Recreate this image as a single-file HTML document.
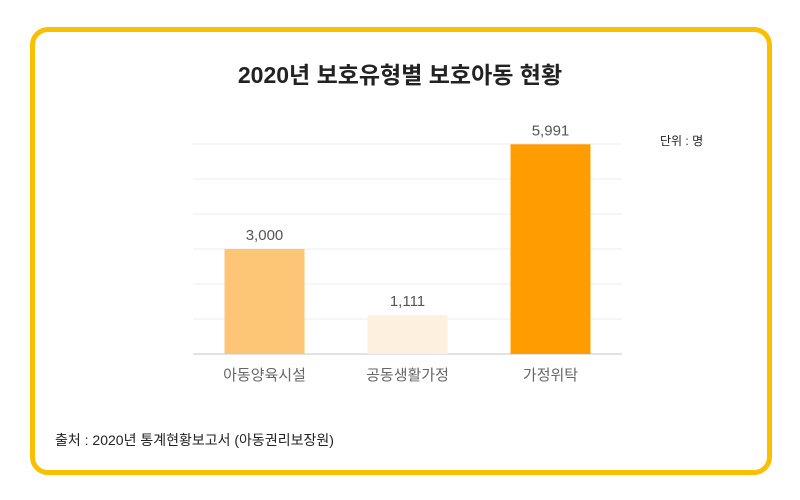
<!DOCTYPE html>
<html><head><meta charset="utf-8"><style>
body{margin:0;background:#fff;font-family:"Liberation Sans","Noto Sans CJK KR",sans-serif;}
#card{position:absolute;left:30px;top:27px;width:732px;height:438px;border:5px solid #F8C000;border-radius:18px;background:#fff;}
</style></head><body>
<div id="card"></div>
<svg width="800" height="500" style="position:absolute;left:0;top:0">
<text x="400" y="83" text-anchor="middle" font-size="23" font-weight="bold" fill="#222">2020년 보호유형별 보호아동 현황</text>
<text x="660" y="145" font-size="12" fill="#222">단위 : 명</text>
<g id="grid"></g><g id="bars"></g>
<text x="55" y="445" font-size="14" fill="#222">출처 : 2020년 통계현황보고서 (아동권리보장원)</text>
</svg>
<script>
const categories=["아동양육시설","공동생활가정","가정위탁"];
const values=[3000,1111,5991];
const valueLabels=["3,000","1,111","5,991"];
const barColors=["#FDC676","#FEF0DE","#FF9C00"];
const gridTicks=[0,1000,2000,3000,4000,5000,6000];
const NS="http://www.w3.org/2000/svg";
const x0=193,x1=622,yb=354,yt=144,maxV=6000;
const y=v=>yb-(v/maxV)*(yb-yt);
const band=(x1-x0)/categories.length;
const bx=i=>x0+band*i+band/2;
const grid=document.getElementById('grid'),bars=document.getElementById('bars');
function mk(t,a,p){const e=document.createElementNS(NS,t);for(const k in a)e.setAttribute(k,a[k]);p.appendChild(e);return e;}
gridTicks.forEach(t=>{const l=mk('line',{x1:x0,x2:x1,y1:y(t),y2:y(t),stroke:t===0?'#e2e2e2':'#eeeeee','stroke-width':t===0?2:1},grid);

});
categories.forEach((c,i)=>{
const r=mk('rect',{x:bx(i)-40,y:y(values[i]),width:80,height:yb-y(values[i]),fill:barColors[i]},bars);


const v=mk('text',{x:bx(i),y:y(values[i])-9,'text-anchor':'middle','font-size':15,fill:'#555'},bars);v.textContent=valueLabels[i];


const t=mk('text',{x:bx(i),y:380,'text-anchor':'middle','font-size':15,fill:'#666'},bars);t.textContent=c;


});
</script>
</body></html>
